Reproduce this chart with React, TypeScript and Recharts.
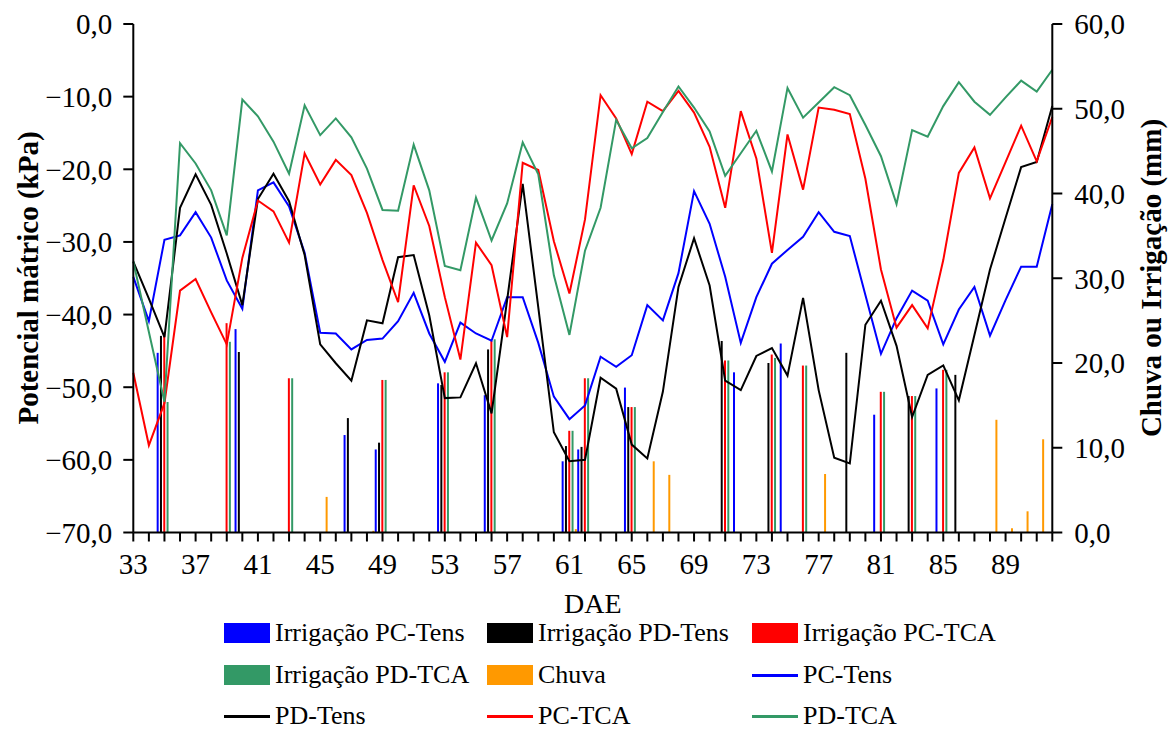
import React from 'react';
import { ComposedChart, Bar, Line, XAxis, YAxis, Label } from 'recharts';

const FONT = '"Liberation Serif", "Times New Roman", Times, serif';

// DAE (dias após emergência)
const days = [
  33, 34, 35, 36, 37, 38, 39, 40, 41, 42, 43, 44, 45, 46, 47, 48, 49, 50, 51, 52,
  53, 54, 55, 56, 57, 58, 59, 60, 61, 62, 63, 64, 65, 66, 67, 68, 69, 70, 71, 72,
  73, 74, 75, 76, 77, 78, 79, 80, 81, 82, 83, 84, 85, 86, 87, 88, 89, 90, 91, 92,
];
const labeledDays = [33, 37, 41, 45, 49, 53, 57, 61, 65, 69, 73, 77, 81, 85, 89];
const leftTicks = [-70, -60, -50, -40, -30, -20, -10, 0];
const rightTicks = [0, 10, 20, 30, 40, 50, 60];

// potencial mátrico (kPa)
const pcTens = [
  -34.8, -40.9, -29.7, -29.1, -25.9, -29.4, -35.3, -39.2, -22.9, -21.8, -25.1, -31.5, -42.5, -42.6, -44.8, -43.5, -43.3, -40.9, -37.0, -42.6,
  -46.5, -41.1, -42.6, -43.6, -37.6, -37.6, -43.9, -51.3, -54.4, -52.5, -45.8, -47.2, -45.6, -38.7, -40.8, -34.3, -23.0, -27.5, -34.8, -43.9,
  -37.6, -33.0, -31.1, -29.3, -25.9, -28.6, -29.2, -37.3, -45.4, -40.5, -36.7, -38.1, -44.1, -39.3, -36.2, -42.9, -38.0, -33.4, -33.4, -24.8,
];
const pdTens = [
  -32.7, -37.8, -43.1, -25.3, -20.7, -24.9, -31.6, -38.7, -24.1, -20.6, -24.4, -31.8, -44.1, -46.7, -49.1, -40.8, -41.2, -32.1, -31.8, -40.1,
  -51.5, -51.4, -46.7, -53.6, -38.0, -22.0, -39.0, -56.2, -60.2, -60.0, -48.7, -50.2, -57.9, -59.8, -50.6, -36.2, -29.5, -36.0, -49.1, -50.4,
  -45.7, -44.6, -48.4, -37.7, -50.4, -59.7, -60.5, -41.4, -38.1, -44.3, -54.1, -48.3, -47.0, -51.8, -42.8, -33.8, -26.7, -19.7, -19.0, -11.3,
];
const pcTca = [
  -48.0, -58.0, -52.2, -36.7, -35.1, -39.7, -44.1, -32.2, -24.3, -25.8, -30.1, -17.8, -22.1, -18.7, -20.8, -26.0, -32.5, -38.3, -22.2, -27.8,
  -37.6, -46.2, -30.1, -33.2, -43.1, -19.1, -20.1, -29.9, -37.1, -26.9, -9.8, -13.0, -17.9, -10.7, -12.0, -9.2, -12.2, -16.9, -25.3, -12.0,
  -18.5, -31.5, -15.2, -22.8, -11.5, -11.8, -12.4, -21.3, -33.8, -41.8, -38.7, -41.9, -32.5, -20.5, -17.0, -24.0, -19.0, -14.0, -18.9, -12.8,
];
const pdTca = [
  -32.7, -42.4, -52.0, -16.4, -19.2, -22.9, -29.1, -10.4, -12.7, -16.2, -20.6, -11.2, -15.3, -13.0, -15.6, -19.9, -25.6, -25.7, -16.6, -22.9,
  -33.3, -33.9, -23.9, -29.8, -24.7, -16.3, -20.7, -34.6, -42.8, -31.2, -25.3, -13.2, -17.1, -15.7, -12.1, -8.6, -11.5, -14.8, -20.9, -17.8,
  -14.7, -20.3, -8.8, -12.9, -10.8, -8.7, -9.8, -13.9, -18.2, -24.8, -14.6, -15.5, -11.3, -8.0, -10.7, -12.5, -10.1, -7.8, -9.3, -6.3,
];

// lâminas (mm) por dia: [DAE, mm]
const irrPcTens: [number, number][] = [
  [35, 21.2], [40, 24.0], [47, 11.5], [49, 9.8], [53, 17.6], [56, 16.2], [61, 8.4],
  [62, 9.8], [65, 17.1], [72, 18.9], [75, 22.3], [81, 13.9], [85, 17.0],
];
const irrPdTens: [number, number][] = [
  [35, 23.2], [40, 21.3], [47, 13.5], [49, 10.6], [53, 17.4], [56, 21.6], [61, 10.2],
  [62, 10.1], [65, 14.8], [71, 22.6], [74, 20.0], [79, 21.2], [83, 16.1], [86, 18.6],
];
const irrPcTca: [number, number][] = [
  [35, 23.5], [39, 24.7], [43, 18.2], [49, 18.0], [53, 18.9], [56, 22.6], [61, 12.0], [62, 18.2],
  [65, 14.8], [71, 20.3], [74, 21.0], [76, 19.7], [81, 16.6], [83, 16.1], [85, 19.2],
];
const irrPdTca: [number, number][] = [
  [35, 15.4], [39, 22.5], [43, 18.2], [49, 18.0], [53, 18.9], [56, 22.8], [61, 12.0], [62, 18.2],
  [65, 14.8], [71, 20.3], [74, 20.6], [76, 19.7], [81, 16.6], [83, 16.1], [85, 19.2],
];
const chuva: [number, number][] = [
  [45, 4.2], [48, 0.2], [61, 0.4], [66, 8.4], [67, 6.8], [77, 6.9], [88, 13.3], [89, 0.5], [90, 2.5], [91, 11.0],
];

const lookup = (list: [number, number][], day: number) => {
  const hit = list.find((p) => p[0] === day);
  return hit ? hit[1] : null;
};

const data = days.map((day, i) => ({
  day,
  pcTens: pcTens[i],
  pdTens: pdTens[i],
  pcTca: pcTca[i],
  pdTca: pdTca[i],
  irrPcTens: lookup(irrPcTens, day),
  irrPdTens: lookup(irrPdTens, day),
  irrPcTca: lookup(irrPcTca, day),
  irrPdTca: lookup(irrPdTca, day),
  chuva: lookup(chuva, day),
}));

const BLUE = '#0000ff';
const BLACK = '#000000';
const RED = '#ff0000';
const GREEN = '#339966';
const ORANGE = '#ff9900';

// 1 casa decimal, vírgula e sinal de menos tipográfico
const fmt = (v: number) => v.toFixed(1).replace('.', ',').replace('-', '\u2212');

const legendItems = [
  { name: 'Irrigação PC-Tens', color: BLUE, kind: 'bar' },
  { name: 'Irrigação PD-Tens', color: BLACK, kind: 'bar' },
  { name: 'Irrigação PC-TCA', color: RED, kind: 'bar' },
  { name: 'Irrigação PD-TCA', color: GREEN, kind: 'bar' },
  { name: 'Chuva', color: ORANGE, kind: 'bar' },
  { name: 'PC-Tens', color: BLUE, kind: 'line' },
  { name: 'PD-Tens', color: BLACK, kind: 'line' },
  { name: 'PC-TCA', color: RED, kind: 'line' },
  { name: 'PD-TCA', color: GREEN, kind: 'line' },
];
const legendCols = [224, 487, 752];
const legendRows = [633, 675, 716];

const tickStyle = { fontSize: 29, fill: '#000', fontFamily: FONT };
const axisStroke = { stroke: '#000', strokeWidth: 2 };

const App: React.FC = () => {
  return (
    <div style={{ position: 'absolute', left: 0, top: 0, width: 1176, height: 729, background: '#fff', fontFamily: FONT }}>
      <ComposedChart
        width={1176}
        height={729}
        data={data}
        margin={{ top: 24, right: 0, bottom: 126.5, left: 0 }}
        barGap={1.3}
      >
        <XAxis
          dataKey="day"
          type="number"
          domain={[33, 92]}
          ticks={days}
          interval={0}
          tickFormatter={(v: number) => (labeledDays.includes(v) ? String(v) : '')}
          tick={tickStyle}
          tickSize={9}
          tickMargin={12}
          tickLine={axisStroke}
          axisLine={axisStroke}
          height={70}
        >
          <Label
            content={() => (
              <text x={592.8} y={613} textAnchor="middle" fontSize={28} style={{ fontFamily: FONT }} fill="#000">
                DAE
              </text>
            )}
          />
        </XAxis>
        <YAxis
          yAxisId="left"
          domain={[-70, 0]}
          ticks={leftTicks}
          tickFormatter={fmt}
          tick={tickStyle}
          tickSize={10}
          tickMargin={11}
          tickLine={axisStroke}
          axisLine={axisStroke}
          width={133.3}
        >
          <Label
            content={() => (
              <text
                x={28}
                y={278}
                transform="rotate(-90 28 278)"
                textAnchor="middle"
                dominantBaseline="central"
                fontSize={29}
                fontWeight="bold"
                style={{ fontFamily: FONT }}
                fill="#000"
              >
                Potencial mátrico (kPa)
              </text>
            )}
          />
        </YAxis>
        <YAxis
          yAxisId="right"
          orientation="right"
          domain={[0, 60]}
          ticks={rightTicks}
          tickFormatter={fmt}
          tick={tickStyle}
          tickSize={10}
          tickMargin={12}
          tickLine={axisStroke}
          axisLine={axisStroke}
          width={123.7}
        >
          <Label
            content={() => (
              <text
                x={1151}
                y={278}
                transform="rotate(-90 1151 278)"
                textAnchor="middle"
                dominantBaseline="central"
                fontSize={29}
                fontWeight="bold"
                style={{ fontFamily: FONT }}
                fill="#000"
              >
                Chuva ou Irrigação (mm)
              </text>
            )}
          />
        </YAxis>

        <Bar yAxisId="right" dataKey="irrPcTens" name="Irrigação PC-Tens" fill={BLUE} barSize={2} isAnimationActive={false} />
        <Bar yAxisId="right" dataKey="irrPdTens" name="Irrigação PD-Tens" fill={BLACK} barSize={2} isAnimationActive={false} />
        <Bar yAxisId="right" dataKey="irrPcTca" name="Irrigação PC-TCA" fill={RED} barSize={2} isAnimationActive={false} />
        <Bar yAxisId="right" dataKey="irrPdTca" name="Irrigação PD-TCA" fill={GREEN} barSize={2} isAnimationActive={false} />
        <Bar yAxisId="right" dataKey="chuva" name="Chuva" fill={ORANGE} barSize={2} isAnimationActive={false} />

        <Line yAxisId="left" type="linear" dataKey="pcTens" name="PC-Tens" stroke={BLUE} strokeWidth={2} dot={false} isAnimationActive={false} />
        <Line yAxisId="left" type="linear" dataKey="pdTens" name="PD-Tens" stroke={BLACK} strokeWidth={2} dot={false} isAnimationActive={false} />
        <Line yAxisId="left" type="linear" dataKey="pcTca" name="PC-TCA" stroke={RED} strokeWidth={2} dot={false} isAnimationActive={false} />
        <Line yAxisId="left" type="linear" dataKey="pdTca" name="PD-TCA" stroke={GREEN} strokeWidth={2} dot={false} isAnimationActive={false} />
      </ComposedChart>

      {legendItems.map((item, i) => {
        const left = legendCols[i % 3];
        const top = legendRows[Math.floor(i / 3)];
        return (
          <div
            key={item.name}
            style={{
              position: 'absolute',
              left,
              top: top - 16,
              height: 32,
              display: 'flex',
              alignItems: 'center',
              fontFamily: FONT,
              fontSize: 26,
              color: '#000',
              whiteSpace: 'nowrap',
            }}
          >
            <span
              style={{
                display: 'inline-block',
                width: 46,
                height: item.kind === 'bar' ? 20 : 3,
                background: item.color,
                marginRight: 5,
              }}
            />
            {item.name}
          </div>
        );
      })}
    </div>
  );
};

export default App;
